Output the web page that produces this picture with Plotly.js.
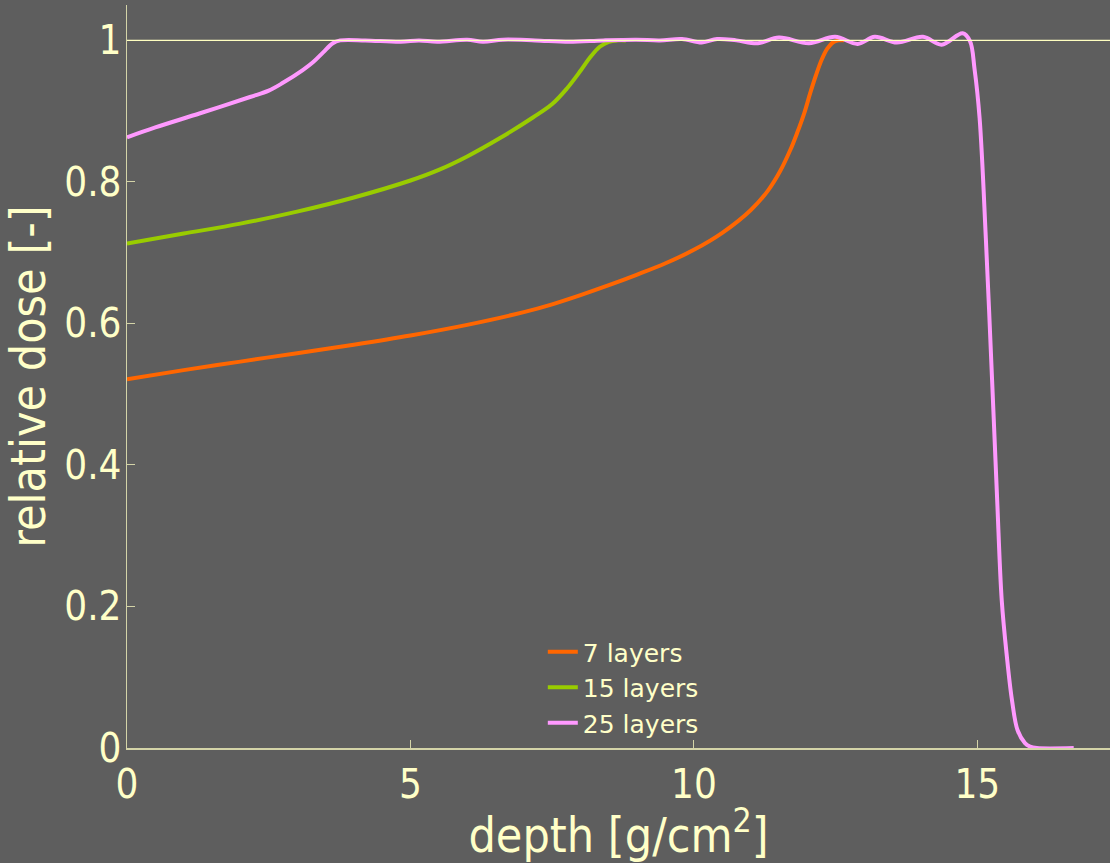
<!DOCTYPE html>
<html>
<head>
<meta charset="utf-8">
<script src="https://cdn.plot.ly/plotly-3.0.1.min.js"></script>
<style>
  html, body { margin: 0; padding: 0; background: #5e5e5e; }
  #chart { width: 1110px; height: 863px; }
</style>
</head>
<body>
<div id="chart"></div>
<script>
// Depth-dose curves of spread-out Bragg peaks built from 7, 15 and 25 energy layers
const seriesNames = ['7 layers', '15 layers', '25 layers'];

const depth7 = [0, 1, 2, 3, 4, 5, 6, 7, 7.5, 8, 8.5, 9, 9.5, 10, 10.5, 11, 11.3, 11.52, 11.7, 11.82, 11.95, 12.05, 12.15, 12.25, 12.35, 12.45, 12.55, 12.65];
const dose7  = [0.521, 0.534, 0.546, 0.558, 0.570, 0.583, 0.598, 0.616, 0.627, 0.640, 0.654, 0.669, 0.685, 0.704, 0.728, 0.760, 0.787, 0.815, 0.845, 0.869, 0.898, 0.925, 0.950, 0.972, 0.988, 0.997, 1.000, 1.000];

const depth15 = [0, 1, 2, 3, 4, 5, 5.5, 6, 6.58, 7.16, 7.5, 7.76, 8.0, 8.17, 8.34, 8.5, 8.65, 8.8];
const dose15  = [0.713, 0.727, 0.741, 0.758, 0.778, 0.802, 0.817, 0.836, 0.862, 0.891, 0.910, 0.932, 0.957, 0.976, 0.991, 0.998, 1.000, 1.000];

const depth25 = [0, 0.5, 1.29, 2.17, 2.5, 2.75, 3.10, 3.28, 3.46, 3.63, 3.76, 4.2, 4.83, 5.15, 5.47, 6.0, 6.28, 6.63, 7.2, 7.8, 8.4, 8.98, 9.4, 9.79, 10.14, 10.41, 10.75, 11.13, 11.5, 12.03, 12.49, 12.89, 13.19, 13.58, 14.04, 14.37, 14.74, 14.87, 14.95, 15.04, 15.15, 15.26, 15.35, 15.43, 15.52, 15.61, 15.71, 15.84, 15.93, 16.05, 16.7];
const dose25  = [0.863, 0.877, 0.897, 0.920, 0.929, 0.940, 0.958, 0.969, 0.983, 0.996, 1.000, 1.000, 0.998, 1.000, 0.998, 1.001, 0.998, 1.001, 1.000, 0.998, 1.000, 1.001, 1.000, 1.002, 0.997, 1.002, 1.000, 0.996, 1.004, 0.996, 1.005, 0.995, 1.005, 0.997, 1.005, 0.994, 1.010, 0.999, 0.960, 0.890, 0.720, 0.520, 0.350, 0.209, 0.130, 0.068, 0.025, 0.007, 0.002, 0, 0];

const xTicks = [0, 5, 10, 15];
const yTicks = [0, 0.2, 0.4, 0.6, 0.8, 1];
const prescribedDose = 1;

const colors = ['#ff6600', '#99cc00', '#ff99ff'];
const cream = '#ffffc8';
const axisColor = '#d4d4a8';
const font = "'DejaVu Sans Condensed', 'DejaVu Sans', sans-serif";
const legendFont = "'DejaVu Sans', sans-serif";

const xs = [depth7, depth15, depth25];
const ys = [dose7, dose15, dose25];

const traces = seriesNames.map((name, i) => ({
  type: 'scatter',
  mode: 'lines',
  name: name,
  x: xs[i],
  y: ys[i],
  line: { color: colors[i], width: 4, shape: 'spline', smoothing: 1 },
  hoverinfo: 'x+y+name'
}));

const layout = {
  width: 1110,
  height: 863,
  paper_bgcolor: '#5e5e5e',
  plot_bgcolor: '#5e5e5e',
  margin: { l: 127, r: 0, t: 5, b: 115 },
  font: { family: font, color: cream },
  showlegend: true,
  legend: {
    x: 0.423, xanchor: 'left',
    y: 0.16, yanchor: 'top',
    bgcolor: 'rgba(0,0,0,0)',
    font: { size: 25, color: cream, family: legendFont },
    traceorder: 'normal'
  },
  xaxis: {
    range: [0, 17.34],
    tickvals: xTicks,
    ticktext: xTicks.map(String),
    ticks: 'inside',
    ticklen: 8,
    tickcolor: axisColor,
    showline: true,
    linecolor: axisColor,
    linewidth: 1.5,
    showgrid: false,
    zeroline: false,
    tickfont: { size: 40, color: cream, family: font },
    title: { text: 'depth [g/cm<sup>2</sup>]', font: { size: 48, color: cream, family: font }, standoff: 4 }
  },
  yaxis: {
    range: [0, 1.05],
    tickvals: yTicks,
    ticks: 'inside',
    ticklen: 8,
    tickcolor: axisColor,
    ticklabelstandoff: -4,
    showline: true,
    linecolor: axisColor,
    linewidth: 1.5,
    showgrid: false,
    zeroline: false,
    tickfont: { size: 40, color: cream, family: font },
    title: { text: 'relative dose [-]', font: { size: 48, color: cream, family: font }, standoff: 12 }
  },
  shapes: [{
    type: 'line', xref: 'paper', yref: 'y',
    x0: 0, x1: 1, y0: prescribedDose, y1: prescribedDose,
    line: { color: '#ffffc0', width: 1.2 },
    layer: 'above'
  }]
};

Plotly.newPlot('chart', traces, layout, { displayModeBar: false, staticPlot: true });
</script>
</body>
</html>
